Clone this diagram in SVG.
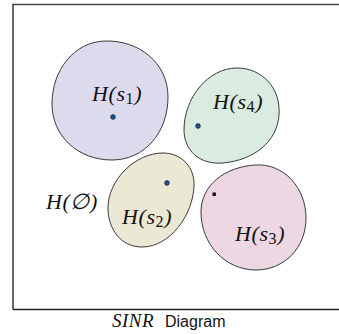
<svg xmlns="http://www.w3.org/2000/svg" width="339" height="334" viewBox="0 0 339 334">
<style>
.blob{stroke:#3a3a3a;stroke-width:1}
.lbl{font-family:"Liberation Serif","DejaVu Serif",serif;font-style:italic;font-size:22px;fill:#111;letter-spacing:0.6px}
.sub{font-size:16px;font-style:normal}
.dot{fill:#1f4f86;stroke:#102030;stroke-width:0.6}
.cap{font-family:"Liberation Sans","DejaVu Sans",sans-serif;font-size:16px;fill:#111}
</style>
<rect x="0" y="0" width="339" height="334" fill="#fff"/>
<path d="M13,309.5 V4.5 H340" fill="none" stroke="#444" stroke-width="1.6"/>
<line x1="13" y1="309.5" x2="340" y2="309.5" stroke="#222" stroke-width="1.6"/>
<g id="s1">
<path class="blob" fill="#dcdbee" d="M105,41 C138,40 168,62 168,97 C168,132 145,160 112,160 C78,160 52,136 52,104 C52,70 74,42 105,41 Z"/>
<circle class="dot" cx="113" cy="117" r="2.4"/>
<text class="lbl" x="92" y="101">H(s<tspan class="sub" dy="3">1</tspan><tspan dy="-3">)</tspan></text>
</g>
<g id="s4">
<path class="blob" fill="#d9ecdf" d="M237,68 C262,68 281,88 279,115 C277,142 254,160 223,163 C199,165 184,150 184,130 C184,98 208,68 237,68 Z"/>
<circle class="dot" cx="198" cy="126" r="2.4"/>
<text class="lbl" x="213" y="109">H(s<tspan class="sub" dy="3">4</tspan><tspan dy="-3">)</tspan></text>
</g>
<g id="s2">
<path class="blob" fill="#ebe8d6" d="M163,153 C182,153 195,168 194,186 C193,215 170,247 142,247 C120,247 108,228 108,208 C108,180 135,153 163,153 Z"/>
<circle class="dot" cx="167" cy="183" r="2.4"/>
<text class="lbl" x="122" y="224">H(s<tspan class="sub" dy="3">2</tspan><tspan dy="-3">)</tspan></text>
</g>
<g id="s3">
<path class="blob" fill="#ecd7e3" d="M255,165 C284,163 306,188 306,218 C306,248 284,270 256,270 C225,270 201,244 201,212 C201,185 225,167 255,165 Z"/>
<rect x="212.5" y="192.5" width="3.4" height="3.4" fill="#111"/>
<text class="lbl" x="235" y="241">H(s<tspan class="sub" dy="3">3</tspan><tspan dy="-3">)</tspan></text>
</g>
<g id="empty">
<text class="lbl" x="46" y="209">H(∅)</text>
</g>
<text class="cap" y="327"><tspan x="112" font-family="Liberation Serif,serif" font-style="italic" font-size="19" letter-spacing="0.5">SINR</tspan><tspan x="165">Diagram</tspan></text>
</svg>
